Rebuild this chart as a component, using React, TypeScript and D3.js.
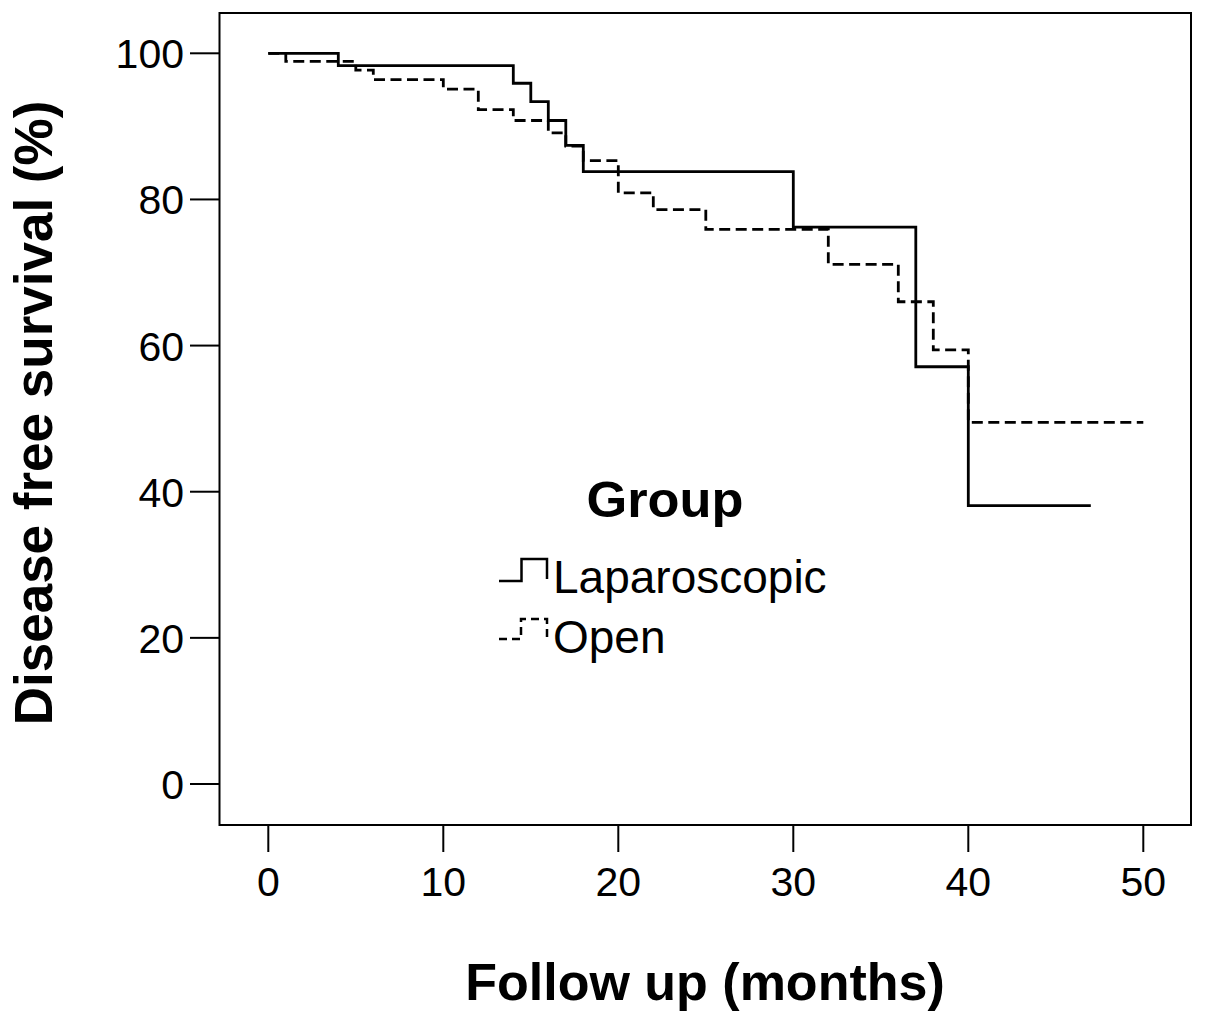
import React from "react";
import * as d3 from "d3";

const lapTimes = [0, 4, 14, 15, 16, 17, 18, 30, 37, 40];
const lapSurv = [100, 98.3, 95.9, 93.4, 90.8, 87.4, 83.8, 76.2, 57.1, 38.1];
const lapEnd = 47;

const openTimes = [0, 1, 5, 6, 10, 12, 14, 16, 17, 18, 20, 22, 25, 32, 36, 38, 40];
const openSurv = [100, 98.9, 97.7, 96.4, 95.1, 92.3, 90.8, 89.1, 87.3, 85.3, 80.9, 78.6, 75.9, 71.1, 66.0, 59.4, 49.5];
const openEnd = 50;

const xTicks = [0, 10, 20, 30, 40, 50];
const yTicks = [0, 20, 40, 60, 80, 100];
const legendTitle = "Group";
const groupNames = ["Laparoscopic", "Open"];
const xTitle = "Follow up (months)";
const yTitle = "Disease free survival (%)";

const W = 1205;
const H = 1024;
const FONT = "'Liberation Sans', Arial, Helvetica, sans-serif";

export default function App() {
  const x = d3.scaleLinear().domain([0, 50]).range([268.3, 1143.3]);
  const y = d3.scaleLinear().domain([0, 100]).range([784, 53.3]);
  const frame = { left: 219.5, right: 1191, top: 13, bottom: 825 };

  const line = d3
    .line<[number, number]>()
    .x((d) => x(d[0]))
    .y((d) => y(d[1]))
    .curve(d3.curveStepAfter);

  const lapPts: [number, number][] = lapTimes.map((t, i) => [t, lapSurv[i]]);
  lapPts.push([lapEnd, lapSurv[lapSurv.length - 1]]);
  const openPts: [number, number][] = openTimes.map((t, i) => [t, openSurv[i]]);
  openPts.push([openEnd, openSurv[openSurv.length - 1]]);

  const dash = "11,5.5";

  return (
    <svg
      width={W}
      height={H}
      style={{ position: "absolute", left: 0, top: 0, background: "#fff" }}
    >
      <rect x={0} y={0} width={W} height={H} fill="#fff" />
      <rect
        x={frame.left}
        y={frame.top}
        width={frame.right - frame.left}
        height={frame.bottom - frame.top}
        fill="none"
        stroke="#000"
        strokeWidth={2}
      />
      {yTicks.map((t) => (
        <g key={"y" + t}>
          <line x1={190} x2={frame.left} y1={y(t)} y2={y(t)} stroke="#000" strokeWidth={2} />
          <text
            x={184}
            y={y(t) + 15}
            textAnchor="end"
            fontFamily={FONT}
            fontSize={41}
            fill="#000"
          >
            {t}
          </text>
        </g>
      ))}
      {xTicks.map((t) => (
        <g key={"x" + t}>
          <line x1={x(t)} x2={x(t)} y1={frame.bottom} y2={852} stroke="#000" strokeWidth={2} />
          <text
            x={x(t)}
            y={896}
            textAnchor="middle"
            fontFamily={FONT}
            fontSize={41}
            fill="#000"
          >
            {t}
          </text>
        </g>
      ))}
      <path d={line(openPts) || ""} fill="none" stroke="#000" strokeWidth={2.8} strokeDasharray={dash} />
      <path d={line(lapPts) || ""} fill="none" stroke="#000" strokeWidth={2.8} />
      <text
        x={665}
        y={517}
        textAnchor="middle"
        fontFamily={FONT}
        fontWeight="bold"
        fontSize={50}
        textLength={157}
        lengthAdjust="spacingAndGlyphs"
      >
        {legendTitle}
      </text>
      <path
        d="M499,581 L521.5,581 L521.5,559 L547,559 L547,579"
        fill="none"
        stroke="#000"
        strokeWidth={2.5}
      />
      <path
        d="M499,639 L521,639 L521,619 L547,619 L547,638"
        fill="none"
        stroke="#000"
        strokeWidth={2.5}
        strokeDasharray="8,5"
      />
      <text x={553} y={593} fontFamily={FONT} fontSize={46}>
        {groupNames[0]}
      </text>
      <text x={553} y={653} fontFamily={FONT} fontSize={46}>
        {groupNames[1]}
      </text>
      <text
        x={705}
        y={1000}
        textAnchor="middle"
        fontFamily={FONT}
        fontWeight="bold"
        fontSize={52}
      >
        {xTitle}
      </text>
      <text
        transform="translate(52,413) rotate(-90)"
        textAnchor="middle"
        fontFamily={FONT}
        fontWeight="bold"
        fontSize={53}
      >
        {yTitle}
      </text>
    </svg>
  );
}
